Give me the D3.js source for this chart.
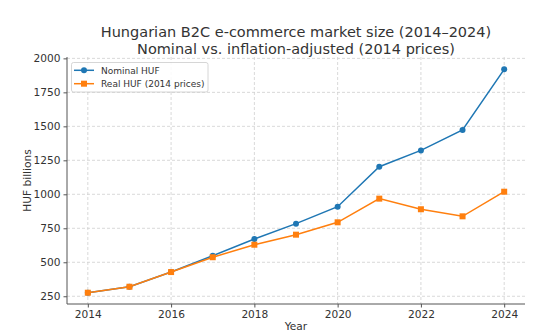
<!DOCTYPE html>
<html><head><meta charset="utf-8">
<script src="https://cdn.jsdelivr.net/npm/d3@7"></script>
<style>body{margin:0;background:#fff}svg{display:block;font-family:"DejaVu Sans",sans-serif}</style>
</head><body><svg id="c" width="557" height="336"></svg>
<script>
const years = [2014,2015,2016,2017,2018,2019,2020,2021,2022,2023,2024];
const nominal = [276,320,428,548,671,784,909,1203,1323,1473,1919];
const real = [276,320,428,537,629,703,794,968,890,838,1019];
const yTicks = [250,500,750,1000,1250,1500,1750,2000];
const xTicks = [2014,2016,2018,2020,2022,2024];
const titleLines = ["Hungarian B2C e-commerce market size (2014–2024)","Nominal vs. inflation-adjusted (2014 prices)"];
const seriesNames = ["Nominal HUF","Real HUF (2014 prices)"];

const svg = d3.select("#c");
const L=67,R=525,T=57,B=304;
const x = d3.scaleLinear().domain([2013.5,2024.5]).range([L,R]);
const y = d3.scaleLinear().domain([193,2010]).range([B,T]);

// grid
const g = svg.append("g");
g.selectAll(".gy").data(yTicks).enter().append("line")
 .attr("x1",L).attr("x2",R).attr("y1",d=>y(d)).attr("y2",d=>y(d))
 .attr("stroke","#cfcfcf").attr("stroke-width",0.8).attr("stroke-dasharray","3,2");
g.selectAll(".gx").data(xTicks).enter().append("line")
 .attr("y1",T).attr("y2",B).attr("x1",d=>x(d)).attr("x2",d=>x(d))
 .attr("stroke","#cfcfcf").attr("stroke-width",0.8).attr("stroke-dasharray","3,2");

// axes
const xa = svg.append("g").attr("transform",`translate(0,${B})`)
 .call(d3.axisBottom(x).tickValues(xTicks).tickFormat(d3.format("d")).tickSizeOuter(0).tickSize(3.5).tickPadding(3));
const ya = svg.append("g").attr("transform",`translate(${L},0)`)
 .call(d3.axisLeft(y).tickValues(yTicks).tickFormat(d3.format("d")).tickSizeOuter(0).tickSize(3.5).tickPadding(3));
[xa,ya].forEach(a=>{
 a.select(".domain").attr("stroke","#555").attr("stroke-width",1);
 a.selectAll(".tick line").attr("stroke","#555");
 a.selectAll("text").attr("fill","#333").style("font-size","10.6px").style("font-family","DejaVu Sans");
});
xa.select(".domain").attr("d",`M${L},0H${R}`);
ya.select(".domain").attr("d",`M0,${T}V${B}`);

// labels
svg.append("text").attr("x",(L+R)/2).attr("y",330).attr("text-anchor","middle")
 .attr("fill","#333").style("font-size","10.6px").text("Year");
svg.append("text").attr("transform",`translate(31,${(T+B)/2}) rotate(-90)`).attr("text-anchor","middle")
 .attr("fill","#333").style("font-size","10.6px").text("HUF billions");
svg.selectAll(".title").data(titleLines).enter().append("text")
 .attr("x",(L+R)/2).attr("y",(d,i)=>37+i*16.5).attr("text-anchor","middle")
 .attr("fill","#333").style("font-size","14.5px").text(d=>d);

// lines
const colors=["#1f77b4","#ff7f0e"];
const line=d3.line().x((d,i)=>x(years[i])).y(d=>y(d));
svg.append("path").datum(nominal).attr("d",line).attr("fill","none").attr("stroke",colors[0]).attr("stroke-width",1.5);
svg.selectAll(".mn").data(nominal).enter().append("circle")
 .attr("cx",(d,i)=>x(years[i])).attr("cy",d=>y(d)).attr("r",3).attr("fill",colors[0]);
svg.append("path").datum(real).attr("d",line).attr("fill","none").attr("stroke",colors[1]).attr("stroke-width",1.5);
svg.selectAll(".mr").data(real).enter().append("rect")
 .attr("x",(d,i)=>x(years[i])-3).attr("y",d=>y(d)-3).attr("width",6).attr("height",6).attr("fill",colors[1]);

// legend
const lg=svg.append("g");
lg.append("rect").attr("x",71.5).attr("y",62.5).attr("width",136.5).attr("height",29.5).attr("rx",2)
 .attr("fill","#fff").attr("fill-opacity",0.85).attr("stroke","#ccc").attr("stroke-width",0.8);
seriesNames.forEach((n,k)=>{
 const yy=70.3+k*13.4;
 lg.append("line").attr("x1",74).attr("x2",94).attr("y1",yy).attr("y2",yy).attr("stroke",colors[k]).attr("stroke-width",1.5);
 if(k===0) lg.append("circle").attr("cx",84).attr("cy",yy).attr("r",3).attr("fill",colors[0]);
 else lg.append("rect").attr("x",81).attr("y",yy-3).attr("width",6).attr("height",6).attr("fill",colors[1]);
 lg.append("text").attr("x",101).attr("y",yy+3.3).attr("fill","#333").style("font-size","9px").text(n);
});
</script></body></html>
